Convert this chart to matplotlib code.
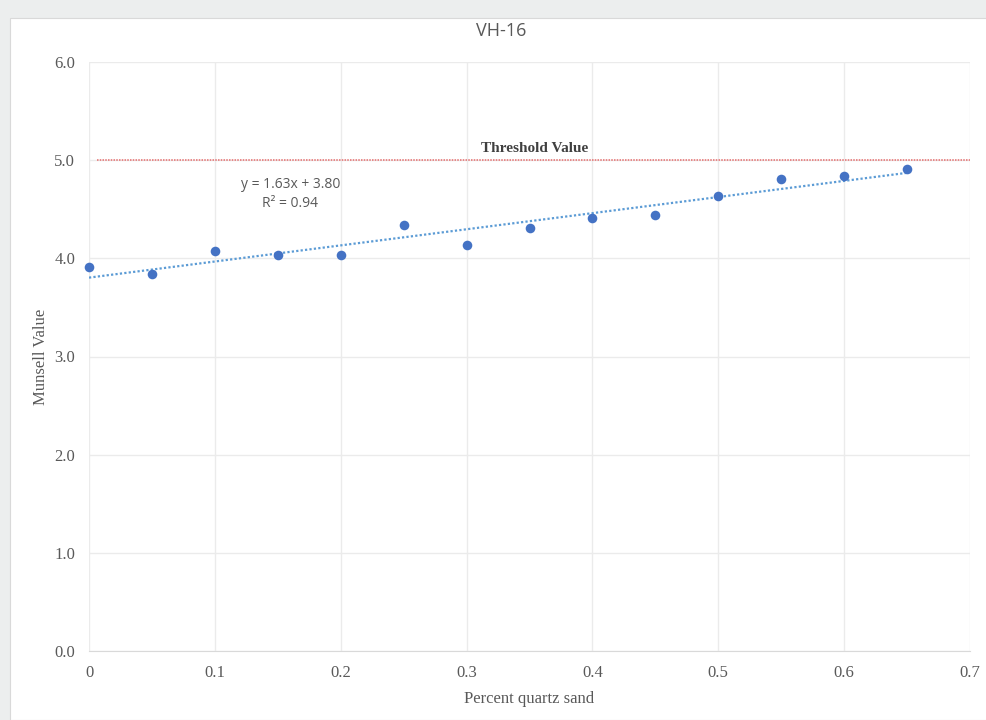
import numpy as np
import matplotlib.pyplot as plt
from matplotlib.patches import Rectangle

# Messwerte VH-16
quartz_pct = [0.0, 0.05, 0.1, 0.15, 0.2, 0.25, 0.3, 0.35, 0.4, 0.45, 0.5, 0.55, 0.6, 0.65]
munsell = [3.91, 3.84, 4.07, 4.03, 4.03, 4.34, 4.14, 4.31, 4.41, 4.44, 4.64, 4.81, 4.84, 4.91]

threshold = 5.0
threshold_x = [0.006, 0.7]

x_ticks = [0, 0.1, 0.2, 0.3, 0.4, 0.5, 0.6, 0.7]
x_tick_labels = ['0', '0.1', '0.2', '0.3', '0.4', '0.5', '0.6', '0.7']
y_ticks = [0.0, 1.0, 2.0, 3.0, 4.0, 5.0, 6.0]

SERIF = 'Liberation Serif'
SANS = 'Open Sans'
TEXT_GREY = '#595959'

fig = plt.figure(figsize=(9.86, 7.2), dpi=100, facecolor='#eceeee')
fig.patches.append(Rectangle((10 / 986, 0), 1, (720 - 18) / 720, transform=fig.transFigure,
                             facecolor='white', edgecolor='#d9d9d9', lw=0.8, zorder=-10))

ax = fig.add_axes([89 / 986, 69 / 720, (970 - 89) / 986, (651 - 62) / 720])
ax.set_facecolor('none')

# Trendlinie
slope, intercept = np.polyfit(quartz_pct, munsell, 1)
xs = np.array([quartz_pct[0], quartz_pct[-1]])
ax.plot(xs, slope * xs + intercept, linestyle=(0, (1, 1)), color='#5b9bd5', lw=1.6, zorder=2)

ax.plot(threshold_x, [threshold, threshold], linestyle=(0, (1, 0.8)), color='#e46c6c', lw=1.1, zorder=2)

ax.scatter(quartz_pct, munsell, s=48, color='#4472c4', zorder=3, linewidths=0, clip_on=False)

ax.set_xlim(0, 0.7)
ax.set_ylim(0, 6)
ax.set_xticks(x_ticks)
ax.set_xticklabels(x_tick_labels)
ax.set_yticks(y_ticks)
ax.set_yticklabels([f'{v:.1f}' for v in y_ticks])
ax.grid(True, color='#ebebeb', lw=1)
ax.set_axisbelow(True)
for side in ['top', 'right', 'left']:
    ax.spines[side].set_visible(False)
ax.spines['bottom'].set_color('#d9d9d9')
ax.tick_params(length=0, labelsize=12, labelcolor=TEXT_GREY, pad=10)
for lbl in ax.get_xticklabels() + ax.get_yticklabels():
    lbl.set_fontfamily(SERIF)

ax.set_xlabel('Percent quartz sand', fontfamily=SERIF, fontsize=12, color=TEXT_GREY, labelpad=7)
ax.set_ylabel('Munsell Value', fontfamily=SERIF, fontsize=12, color=TEXT_GREY, labelpad=4)
fig.text(501 / 986, 1 - 31 / 720, 'VH-16', ha='center', va='center', fontfamily=SANS,
         fontsize=13, color=TEXT_GREY)

ax.text(0.16, 4.75, 'y = 1.63x + 3.80', ha='center', va='center', fontfamily=SANS,
        fontsize=10, color=TEXT_GREY)
ax.text(0.16, 4.56, 'R² = 0.94', ha='center', va='center', fontfamily=SANS,
        fontsize=10, color=TEXT_GREY)
ax.text(0.354, 5.12, 'Threshold Value', ha='center', va='center', fontfamily=SERIF,
        fontsize=11, fontweight='bold', color='#404040')

fig.savefig('out.png', dpi=100, facecolor=fig.get_facecolor())
